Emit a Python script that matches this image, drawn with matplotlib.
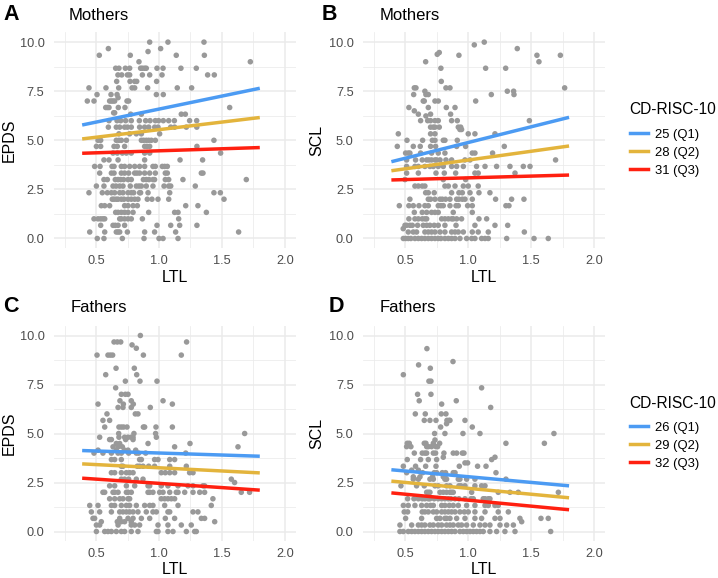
import matplotlib
matplotlib.use("Agg")
import matplotlib.pyplot as plt
from matplotlib.lines import Line2D
from matplotlib.ticker import FixedLocator

plt.rcParams['font.family'] = ['Liberation Sans', 'DejaVu Sans']

# ---------------- data ----------------
# Panel A: Mothers, EPDS vs LTL  (y level -> LTL values of points on that level)
A_levels = [10.0, 9.67, 9.52, 9.33, 9.0, 8.67, 8.33, 8.0, 7.67, 7.33, 7.17, 7.0, 6.67, 6.4, 6.33, 6.0,
            5.67, 5.33, 5.0, 4.69, 4.35, 4.0, 3.67, 3.33, 3.0, 2.67, 2.33, 2.0, 1.67, 1.33, 1.0,
            0.67, 0.33, 0.0]
A_ltl = [
    [0.926, 1.071, 1.357],
    [0.598, 1.013],
    [0.913],
    [0.526, 0.772, 1.137, 1.360],
    [0.841, 1.725],
    [0.656, 0.682, 0.733, 0.767, 0.854, 0.868, 0.886, 0.899, 0.984, 1.032, 1.174, 1.296],
    [0.674, 0.704, 0.749, 0.767, 0.868, 0.926, 1.024, 1.386, 1.439],
    [0.664, 0.770, 0.807, 0.823, 0.981],
    [0.444, 0.579, 0.680, 0.786, 0.807, 0.910, 1.145, 1.259],
    [0.508, 0.619, 0.667, 0.979, 1.034],
    [0.675],
    [0.431, 0.484, 0.608, 0.622, 0.635, 0.648, 0.746, 0.759],
    [0.577, 0.590, 0.603, 0.677, 0.730, 1.561],
    [0.640, 0.648],
    [0.775, 0.860, 1.177, 1.209],
    [0.603, 0.667, 0.696, 0.735, 0.780, 0.844, 0.894, 0.929, 0.971, 0.997, 1.034, 1.077, 1.122, 1.243, 1.299],
    [0.598, 0.661, 0.688, 0.727, 0.749, 0.780, 0.846, 0.886, 0.918, 0.966, 0.992, 1.093, 1.124, 1.217, 1.300],
    [0.682, 0.767, 0.820, 0.860, 1.005],
    [0.516, 0.537, 0.661, 0.682, 0.701, 0.741, 0.860, 0.878, 0.899, 0.918, 0.939, 0.971, 1.436],
    [0.503, 0.537, 0.643, 0.669, 0.727, 0.886, 0.905, 0.926, 1.301],
    [0.635, 0.669, 0.709, 0.741, 0.780, 0.886, 0.926, 1.489],
    [0.563, 0.603, 0.675, 0.886, 1.167, 1.346],
    [0.489, 0.532, 0.627, 0.643, 0.701, 0.727, 0.767, 0.807, 0.846, 0.886, 0.952, 0.971, 1.026, 1.045, 1.066],
    [0.529, 0.622, 0.643, 0.701, 0.727, 0.759, 0.807, 0.825, 0.846, 0.886, 0.926, 0.971, 1.050, 1.066, 1.336, 1.349],
    [0.563, 0.590, 0.653, 0.675, 0.696, 0.719, 0.754, 0.780, 0.876, 0.899, 0.921, 0.952, 0.965, 1.050, 1.077, 1.190, 1.693],
    [0.503, 0.563, 0.635, 0.659, 0.688, 0.714, 0.772, 0.820, 0.841, 0.860, 0.899, 0.952, 1.040, 1.077, 1.093, 1.288],
    [0.444, 0.550, 0.590, 0.622, 0.648, 0.688, 0.714, 0.754, 0.780, 0.799, 0.846, 0.854, 0.913, 1.085, 1.436, 1.487],
    [0.629, 0.643, 0.661, 0.675, 0.701, 0.722, 0.754, 0.780, 0.807, 0.833, 0.907, 0.944, 0.992, 1.077, 1.516],
    [0.542, 0.569, 0.608, 0.727, 0.754, 0.794, 0.828, 1.212, 1.309],
    [0.656, 0.675, 0.701, 0.727, 0.754, 0.794, 0.918, 1.124, 1.151, 1.376],
    [0.484, 0.516, 0.537, 0.555, 0.569, 0.688, 0.701, 0.727, 0.754, 0.780, 0.868, 1.156],
    [0.537, 0.635, 0.653, 0.675, 0.727, 0.984, 1.093, 1.164, 1.301],
    [0.450, 0.569, 0.661, 0.675, 0.688, 0.749, 0.886, 0.965, 1.132, 1.632],
    [0.510, 0.563, 0.709, 0.881, 1.000, 1.032, 1.151],
]

# Panel B: Mothers, SCL vs LTL
B_levels = [10.0, 9.86, 9.67, 9.47, 9.38, 9.33, 9.0, 8.67, 8.0, 7.67, 7.5, 7.33, 7.0, 6.67, 6.5, 6.33, 6.24,
            6.0, 5.67, 5.55, 5.33, 5.0, 4.69, 4.35, 4.0, 3.67, 3.33, 3.0, 2.67, 2.33, 2.0, 1.67, 1.33,
            1.0, 0.67, 0.5, 0.33, 0.0]
B_ltl = [
    [1.127],
    [1.048],
    [1.389],
    [0.770],
    [0.754],
    [0.926, 1.545, 1.731],
    [0.662, 1.561],
    [0.783, 1.138, 1.297],
    [0.786],
    [0.572, 0.585, 0.823, 0.855, 1.765],
    [0.656, 1.310, 1.360],
    [0.567, 0.664, 0.683, 1.183, 1.363],
    [0.643, 0.651, 0.736, 0.762, 1.059],
    [0.529, 0.683, 0.826, 0.895],
    [0.572],
    [0.604, 0.701, 0.860],
    [0.664],
    [0.622, 0.678, 0.701, 0.736, 0.762, 0.868, 0.913, 1.485],
    [0.701, 0.723, 0.736, 0.770, 0.921, 0.940],
    [0.934, 0.947],
    [0.445, 0.701, 0.736, 1.000, 1.053, 1.212],
    [0.514, 0.638, 0.715, 0.736, 0.802, 0.815, 0.913],
    [0.437, 0.564, 0.619, 0.701, 0.741, 0.908, 0.979, 1.286],
    [0.503, 0.524, 0.537, 0.622, 0.709, 0.762, 0.815, 1.032, 1.053, 1.193],
    [0.511, 0.582, 0.635, 0.670, 0.688, 0.709, 0.736, 0.749, 0.776, 0.823, 0.868, 0.974, 1.014, 1.693],
    [0.511, 0.577, 0.604, 0.656, 0.696, 0.723, 0.762, 0.802, 0.868, 0.908, 0.961, 1.066, 1.133, 1.225, 1.331, 1.437, 1.490],
    [0.511, 0.604, 0.744, 0.810, 0.900, 1.053, 1.079, 1.371],
    [0.498, 0.802, 0.979],
    [0.577, 0.604, 0.635, 0.656, 0.815, 0.842, 0.895, 0.961, 1.000, 1.079],
    [0.662, 0.683, 0.730, 0.868, 0.926, 0.953, 1.014, 1.085, 1.172],
    [0.537, 0.683, 0.701, 0.736, 0.776, 0.794, 0.820, 0.855, 0.908, 0.926, 0.953, 0.974, 1.032, 1.217, 1.344, 1.442],
    [0.453, 0.529, 0.564, 0.609, 0.656, 0.683, 0.762, 0.783, 0.802, 0.855, 0.903, 0.921, 0.995, 1.032, 1.299, 1.323],
    [0.572, 0.635, 0.670, 0.709, 0.736, 0.762, 0.881, 1.032],
    [0.529, 0.577, 0.604, 0.635, 0.656, 0.670, 0.789, 0.815, 0.842, 0.868, 0.881, 0.908, 0.947, 1.085, 1.146],
    [0.498, 0.511, 0.537, 0.556, 0.598, 0.643, 0.670, 0.696, 0.730, 0.762, 0.815, 0.903, 1.053, 1.212, 1.313],
    [0.484],
    [0.524, 0.564, 0.590, 0.656, 0.683, 0.709, 0.736, 0.776, 0.815, 0.868, 0.895, 0.921, 0.961, 1.032, 1.079, 1.159, 1.445],
    [0.485, 0.503, 0.524, 0.545, 0.577, 0.604, 0.630, 0.656, 0.683, 0.709, 0.736, 0.762, 0.783, 0.815, 0.842,
     0.868, 0.895, 0.934, 0.987, 1.027, 1.053, 1.106, 1.133, 1.159, 1.305, 1.522, 1.635],
]

# Panel C: Fathers, EPDS vs LTL
C_levels = [10.0, 9.67, 9.52, 9.35, 9.0, 8.33, 8.0, 7.67, 7.33, 7.0, 6.67, 6.5, 6.33, 6.0, 5.67, 5.33, 5.0,
            4.81, 4.69, 4.49, 4.32, 4.15, 4.0, 3.67, 3.33, 3.0, 2.67, 2.5, 2.33, 2.0, 1.67, 1.33, 1.0,
            0.67, 0.5, 0.33, 0.0]
C_ltl = [
    [0.852],
    [0.643, 0.669, 0.696, 1.219],
    [0.786],
    [0.820],
    [0.508, 0.595, 0.614, 0.632, 0.876, 1.177],
    [0.659, 0.804],
    [0.577, 0.823],
    [0.733, 0.849, 0.984],
    [0.656],
    [0.701, 0.733, 0.754],
    [0.690, 0.780, 1.032],
    [0.516, 0.717, 0.796, 1.106],
    [0.675, 0.714, 0.780, 0.931],
    [0.587, 0.812, 0.833],
    [0.555, 0.608],
    [0.569, 0.682, 0.701, 0.719, 0.746, 0.876, 0.886, 0.976, 1.106],
    [0.680, 0.801, 0.973, 1.680],
    [0.529, 0.682, 0.727, 0.754, 0.780, 0.794, 0.979],
    [0.608, 0.622, 0.735, 0.794],
    [0.661, 0.688, 0.913, 1.246],
    [0.635, 0.675, 0.709, 1.124, 1.627],
    [0.516, 0.661, 0.727, 0.754, 0.815],
    [0.484, 0.555, 0.622, 0.675, 0.701, 0.759, 0.820, 0.838, 0.894, 1.212],
    [0.622, 0.648, 0.701, 0.846, 0.860, 0.965, 0.992, 1.085, 1.124],
    [0.701, 0.714, 0.828, 0.846, 0.873, 0.918, 0.965, 1.085, 1.217],
    [0.622, 0.648, 0.701, 0.741, 0.767, 0.794, 1.018, 1.050, 1.085, 1.124, 1.243, 1.270],
    [0.701, 0.727, 0.759, 0.820, 0.873, 1.574],
    [1.600],
    [0.608, 0.648, 0.741, 0.807, 0.913, 0.926, 1.018, 1.071, 1.151, 1.230, 1.270, 1.349, 1.362],
    [0.555, 0.569, 0.635, 0.648, 0.675, 0.741, 0.754, 0.780, 0.913, 0.926, 0.952, 1.005, 1.032, 1.085,
     1.137, 1.151, 1.204, 1.270, 1.323, 1.362, 1.653, 1.719],
    [0.608, 0.648, 0.688, 0.714, 0.754, 0.767, 1.018, 1.045, 1.071, 1.098, 1.124, 1.428],
    [0.450, 0.516, 0.622, 0.648, 0.701, 0.741, 0.767, 0.820, 0.886, 0.926, 0.952, 1.045, 1.151, 1.415],
    [0.463, 0.529, 0.622, 0.688, 0.714, 0.741, 0.767, 0.794, 0.833, 0.899, 0.952, 0.979, 1.071, 1.085, 1.270, 1.309],
    [0.476, 0.489, 0.688, 0.754, 0.794, 0.860, 0.926, 1.050, 1.124, 1.336, 1.362],
    [0.542, 0.669, 0.701, 0.727, 0.780, 1.442],
    [0.503, 0.529, 0.675, 0.780, 0.807, 0.846, 0.992, 1.071, 1.177, 1.256],
    [0.503, 0.569, 0.595, 0.622, 0.661, 0.701, 0.727, 0.780, 0.833, 0.979, 0.992, 1.071, 1.111, 1.217, 1.283, 1.296],
]

# Panel D: Fathers, SCL vs LTL
D_levels = [9.33, 8.67, 8.5, 8.33, 8.0, 7.67, 7.33, 7.0, 6.67, 6.5, 6.33, 6.0, 5.67, 5.5, 5.33, 5.0, 4.67,
            4.5, 4.33, 4.0, 3.79, 3.67, 3.5, 3.33, 3.13, 3.0, 2.79, 2.67, 2.33, 2.0, 1.67, 1.33, 1.0,
            0.67, 0.5, 0.33, 0.0]
D_ltl = [
    [0.672],
    [0.879],
    [0.606],
    [0.699],
    [0.485],
    [0.688, 0.704],
    [1.106],
    [0.598, 0.704],
    [0.611, 0.905],
    [0.789],
    [1.178],
    [0.580, 0.659, 0.786, 0.823],
    [0.651, 0.696, 0.744, 0.831, 0.847, 0.855, 0.974],
    [0.828],
    [0.781, 1.032],
    [0.733, 0.815, 0.958, 1.093, 1.680],
    [0.736],
    [0.516, 0.532, 0.651, 0.664, 0.723, 0.773, 1.299, 1.604],
    [0.511, 0.545, 0.670, 0.683, 0.709, 0.744, 0.757],
    [0.572, 0.635, 0.656, 0.670, 0.723, 0.741, 0.807, 0.881, 0.908, 0.953, 0.966],
    [0.802, 1.212],
    [0.516, 0.622, 0.683, 0.749, 1.186],
    [0.974, 0.995],
    [0.485, 0.582, 0.662, 0.744, 0.929, 1.074, 1.141],
    [0.551, 0.604],
    [0.511, 0.638, 0.730, 0.749, 0.794, 0.820, 0.881, 0.895, 1.220],
    [0.564, 0.617, 0.717, 0.802, 0.815],
    [0.564, 0.604, 0.696, 0.723, 0.815, 0.828, 0.921, 0.934, 0.987, 1.053, 1.299],
    [0.466, 0.590, 0.651, 0.736, 0.762, 0.828, 0.855, 0.926, 0.942, 0.974, 1.053, 1.106, 1.133],
    [0.670, 0.683, 0.696, 0.776, 0.802, 0.828, 0.855, 0.868, 0.881, 1.027, 1.238, 1.331, 1.397, 1.715],
    [0.519, 0.569, 0.604, 0.635, 0.656, 0.683, 0.696, 0.730, 0.762, 0.789, 0.815, 0.842, 0.863, 0.895,
     0.926, 0.974, 1.022, 1.040, 1.119, 1.133, 1.159, 1.172],
    [0.485, 0.524, 0.577, 0.630, 0.670, 0.701, 0.723, 0.789, 0.815, 0.850, 0.881, 0.921, 0.987, 1.053,
     1.133, 1.159, 1.212, 1.238],
    [0.492, 0.519, 0.635, 0.656, 0.683, 0.723, 0.749, 0.789, 0.815, 0.842, 0.868, 0.895, 0.934, 0.969,
     1.000, 1.053, 1.133, 1.238, 1.318],
    [0.503, 0.630, 0.749, 0.776, 0.815, 0.828, 0.855, 0.908, 0.974, 1.053, 1.106, 1.212, 1.252, 1.410,
     1.577, 1.635],
    [1.424],
    [0.458, 0.551, 0.604, 0.630, 0.656, 0.696, 0.723, 0.762, 0.789, 0.828, 0.855, 0.881, 0.921, 0.947,
     0.987, 1.040, 1.093, 1.133, 1.172, 1.252, 1.305, 1.358],
    [0.458, 0.485, 0.524, 0.551, 0.577, 0.604, 0.630, 0.656, 0.683, 0.709, 0.736, 0.762, 0.789, 0.815,
     0.842, 0.868, 0.895, 0.934, 0.961, 0.987, 1.014, 1.040, 1.066, 1.093, 1.119, 1.172, 1.225, 1.291,
     1.371, 1.654],
]

# Simple-slope lines at CD-RISC-10 quartiles (values at both ends of the LTL range)
fit_ltl = [0.39, 1.80]
A_fit = {'Q1': [5.78, 7.65], 'Q2': [5.07, 6.16], 'Q3': [4.34, 4.63]}
B_fit = {'Q1': [3.91, 6.17], 'Q2': [3.45, 4.71], 'Q3': [2.98, 3.23]}
C_fit = {'Q1': [4.13, 3.84], 'Q2': [3.45, 2.99], 'Q3': [2.72, 2.11]}
D_fit = {'Q1': [3.15, 2.33], 'Q2': [2.57, 1.72], 'Q3': [1.97, 1.11]}

legend_title = 'CD-RISC-10'
mother_labels = ['25 (Q1)', '28 (Q2)', '31 (Q3)']
father_labels = ['26 (Q1)', '29 (Q2)', '32 (Q3)']

x_ticks = [0.5, 1.0, 1.5, 2.0]
x_tick_labels = ['0.5', '1.0', '1.5', '2.0']
y_ticks = [0.0, 2.5, 5.0, 7.5, 10.0]
y_tick_labels = ['0.0', '2.5', '5.0', '7.5', '10.0']

line_colors = {'Q1': '#4C9BF3', 'Q2': '#E3B43C', 'Q3': '#FF2010'}
point_color = '#999999'
grid_color = '#EBEBEB'

# ---------------- figure ----------------
W, H = 718, 578
fig = plt.figure(figsize=(W / 100, H / 100), dpi=100)


def px_axes(left, top, right, bottom):
    return fig.add_axes([left / W, 1 - bottom / H, (right - left) / W, (bottom - top) / H])


panels = [
    ('A', 'Mothers', 'EPDS', A_levels, A_ltl, A_fit, (53.5, 32.3, 296.0, 248.3), (3, 15), (69, 15), 9),
    ('B', 'Mothers', 'SCL', B_levels, B_ltl, B_fit, (362.7, 32.3, 605.3, 248.3), (322, 15), (380, 15), 317),
    ('C', 'Fathers', 'EPDS', C_levels, C_ltl, C_fit, (53.5, 325.7, 296.0, 541.3), (3, 307), (71, 308), 9),
    ('D', 'Fathers', 'SCL', D_levels, D_ltl, D_fit, (362.7, 325.7, 605.3, 541.3), (329, 307), (380, 308), 317),
]

for letter, title, ylab, levels, ltl, fit, box, lpos, tpos, ylab_x in panels:
    ax = px_axes(*box)
    xs, ys = [], []
    for lev, row in zip(levels, ltl):
        xs.extend(row)
        ys.extend([lev] * len(row))
    ax.scatter(xs, ys, s=16, color=point_color, edgecolors='none', zorder=2)
    for q in ['Q1', 'Q2', 'Q3']:
        ax.plot(fit_ltl, fit[q], color=line_colors[q], lw=2.5, solid_capstyle='butt', zorder=3)

    ax.set_xlim(0.1625, 2.0875)
    ax.set_ylim(-0.5, 10.5)
    ax.xaxis.set_major_locator(FixedLocator(x_ticks))
    ax.yaxis.set_major_locator(FixedLocator(y_ticks))
    ax.set_xticklabels(x_tick_labels)
    ax.set_yticklabels(y_tick_labels)
    ax.xaxis.set_minor_locator(FixedLocator([0.25, 0.75, 1.25, 1.75]))
    ax.yaxis.set_minor_locator(FixedLocator([1.25, 3.75, 6.25, 8.75]))
    ax.grid(which='major', color=grid_color, lw=1.1, zorder=0)
    ax.grid(which='minor', color=grid_color, lw=0.55, zorder=0)
    ax.set_axisbelow(True)
    for s in ax.spines.values():
        s.set_visible(False)
    ax.tick_params(which='both', length=0)
    ax.tick_params(axis='x', pad=4.5, labelsize=9.2, labelcolor='#4D4D4D')
    ax.tick_params(axis='y', pad=6.5, labelsize=9.2, labelcolor='#4D4D4D')

    ax.set_xlabel('LTL', fontsize=11.5, va='center')
    ax.set_ylabel(ylab, fontsize=11.5, va='center')
    hpx = box[3] - box[1]
    wpx = box[2] - box[0]
    ax.xaxis.set_label_coords(0.5, -28.7 / hpx)
    ax.yaxis.set_label_coords((ylab_x - box[0]) / wpx, 0.5)

    fig.text(lpos[0] / W, 1 - lpos[1] / H, letter, fontsize=15.5, fontweight='bold', ha='left', va='center')
    fig.text(tpos[0] / W, 1 - tpos[1] / H, title, fontsize=12, ha='left', va='center')

for labels, dy in [(mother_labels, 0.0), (father_labels, 293.4)]:
    fig.text(629 / W, 1 - (110 + dy) / H, legend_title, fontsize=11.2, ha='left', va='center')
    handles = [Line2D([0], [0], color=line_colors[q], lw=2.5) for q in ['Q1', 'Q2', 'Q3']]
    fig.legend(handles, labels, loc='upper left',
               bbox_to_anchor=(630 / W, 1 - (128.5 + dy) / H), frameon=False,
               fontsize=9.4, handlelength=1.38, handletextpad=0.55,
               labelspacing=0.45, borderpad=0, borderaxespad=0)

fig.savefig('out.png', dpi=100)
